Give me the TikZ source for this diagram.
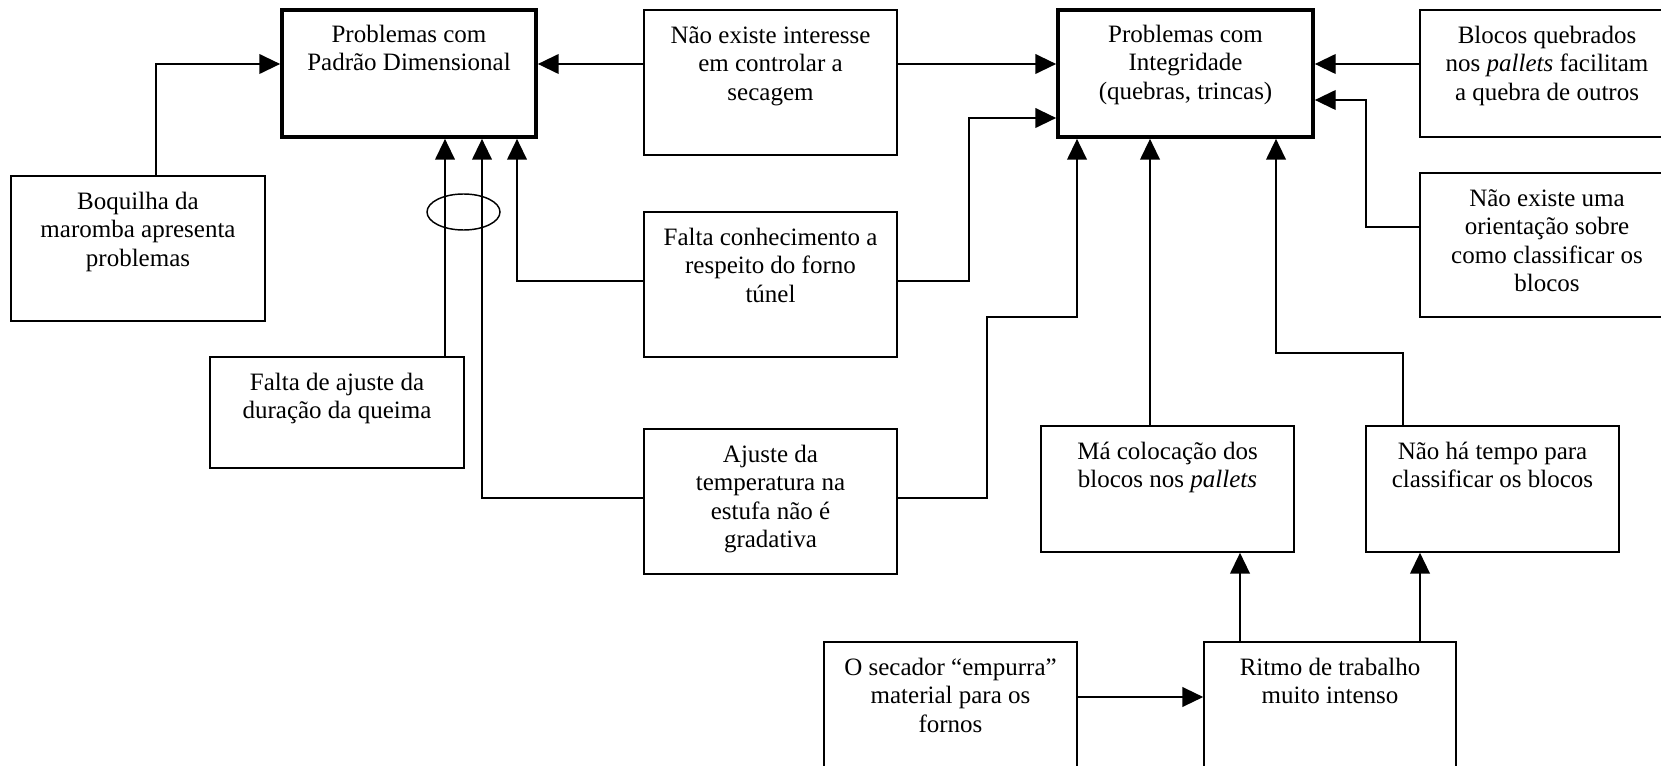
\documentclass[tikz,border=0pt]{standalone}
\usepackage{fontspec}
\setmainfont{Liberation Serif}
\usetikzlibrary{arrows.meta,shapes.geometric}

\tikzset{
  x=0.48pt, y=-0.48pt,
  box/.style={draw, line width=0.8pt, inner sep=0pt},
  mainbox/.style={draw, line width=1.8pt, inner sep=0pt},
  wh/.style 2 args={minimum width=#1*0.48pt, minimum height=#2*0.48pt},
  txt/.style={align=center, inner sep=0pt, anchor=north,
              font=\fontsize{12}{13.6}\selectfont},
  conn/.style={line width=0.7pt, -{Triangle[length=10pt,width=9.5pt]}},
}
\newcommand{\topgap}{14.2*0.48pt}

\begin{document}
\begin{tikzpicture}
\useasboundingbox (0,0) rectangle (1661,766);
\clip (0,0) rectangle (1661,766);

% effects
\node[mainbox, wh={254}{127}] (pd)  at (409,73.5)   {};
\node[mainbox, wh={255}{127}] (int) at (1185.5,73.5) {};

% causes
\node[box, wh={254}{145}] (boq) at (138,248.5)   {};
\node[box, wh={253}{145}] (nei) at (770.5,82.5)  {};
\node[box, wh={253}{145}] (fc)  at (770.5,284.5) {};
\node[box, wh={254}{111}] (fa)  at (337,412.5)   {};
\node[box, wh={253}{145}] (at)  at (770.5,501.5) {};
\node[box, wh={254}{127}] (bq)  at (1547,73.5)   {};
\node[box, wh={254}{144}] (neo) at (1547,245)    {};
\node[box, wh={253}{126}] (mc)  at (1167.5,489)  {};
\node[box, wh={253}{126}] (nht) at (1492.5,489)  {};
\node[box, wh={253}{145}] (os)  at (950.5,714.5) {};
\node[box, wh={252}{145}] (rt)  at (1330,714.5)  {};

% texts, set from the top of each box
\node[txt] (pd-t)  at ([yshift=-\topgap]pd.north)  {\strut Problemas com\\Padrão Dimensional};
\node[txt] (int-t) at ([yshift=-\topgap]int.north) {\strut Problemas com\\Integridade\\(quebras, trincas)};
\node[txt] (boq-t) at ([yshift=-\topgap]boq.north) {\strut Boquilha da\\maromba apresenta\\problemas};
\node[txt] (nei-t) at ([yshift=-\topgap]nei.north) {\strut Não existe interesse\\em controlar a\\secagem};
\node[txt] (fc-t)  at ([yshift=-\topgap]fc.north)  {\strut Falta conhecimento a\\respeito do forno\\túnel};
\node[txt] (fa-t)  at ([yshift=-\topgap]fa.north)  {\strut Falta de ajuste da\\duração da queima};
\node[txt] (at-t)  at ([yshift=-\topgap]at.north)  {\strut Ajuste da\\temperatura na\\estufa não é\\gradativa};
\node[txt] (bq-t)  at ([yshift=-\topgap]bq.north)  {\strut Blocos quebrados\\nos \textit{pallets} facilitam\\a quebra de outros};
\node[txt] (neo-t) at ([yshift=-\topgap]neo.north) {\strut Não existe uma\\orientação sobre\\como classificar os\\blocos};
\node[txt] (mc-t)  at ([yshift=-\topgap]mc.north)  {\strut Má colocação dos\\blocos nos \textit{pallets}};
\node[txt] (nht-t) at ([yshift=-\topgap]nht.north) {\strut Não há tempo para\\classificar os blocos};
\node[txt] (os-t)  at ([yshift=-\topgap]os.north)  {\strut O secador “empurra”\\material para os\\fornos};
\node[txt] (rt-t)  at ([yshift=-\topgap]rt.north)  {\strut Ritmo de trabalho\\muito intenso};

% bend points of the connectors
\coordinate (k1)   at (156,64);
\coordinate (k2)   at (0,64);
\coordinate (k4)   at (445,0);
\coordinate (k5)   at (482,498);
\coordinate (k6)   at (517,281);
\coordinate (k7)   at (969,118);
\coordinate (k8a)  at (987,317);
\coordinate (k8b)  at (1077,317);
\coordinate (k9)   at (1150,0);
\coordinate (k10a) at (1403,353);
\coordinate (k10b) at (1276,353);
\coordinate (k12a) at (1366,227);
\coordinate (k12b) at (1366,100);
\coordinate (k13)  at (0,697);
\coordinate (k14)  at (1240,0);
\coordinate (k15)  at (1420,0);

% connectors into "Padrão Dimensional"
\draw[conn] (boq.north -| k1) |- (pd.west |- k1);
\draw[conn] (nei.west |- k2) -- (pd.east |- k2);
\draw[conn] (fa.north -| k4) -- (pd.south -| k4);
\draw[conn] (at.west |- k5) -| (pd.south -| k5);
\draw[conn] (fc.west |- k6) -| (pd.south -| k6);

% connectors into "Integridade"
\draw[conn] (nei.east |- k2) -- (int.west |- k2);
\draw[conn] (fc.east |- k6) -| (k7) -- (int.west |- k7);
\draw[conn] (at.east |- k5) -| (k8a) -| (int.south -| k8b);
\draw[conn] (mc.north -| k9) -- (int.south -| k9);
\draw[conn] (nht.north -| k10a) -- (k10a) -| (int.south -| k10b);
\draw[conn] (bq.west |- k2) -- (int.east |- k2);
\draw[conn] (neo.west |- k12a) -| (k12b) -- (int.east |- k12b);

% lower chain
\draw[conn] (os.east |- k13) -- (rt.west |- k13);
\draw[conn] (rt.north -| k14) -- (mc.south -| k14);
\draw[conn] (rt.north -| k15) -- (nht.south -| k15);

% grouping ring across two arrows
\node[draw, ellipse, line width=0.7pt, inner sep=0pt, wh={73}{36}] (grp) at (463.5,212) {};
\end{tikzpicture}
\end{document}
